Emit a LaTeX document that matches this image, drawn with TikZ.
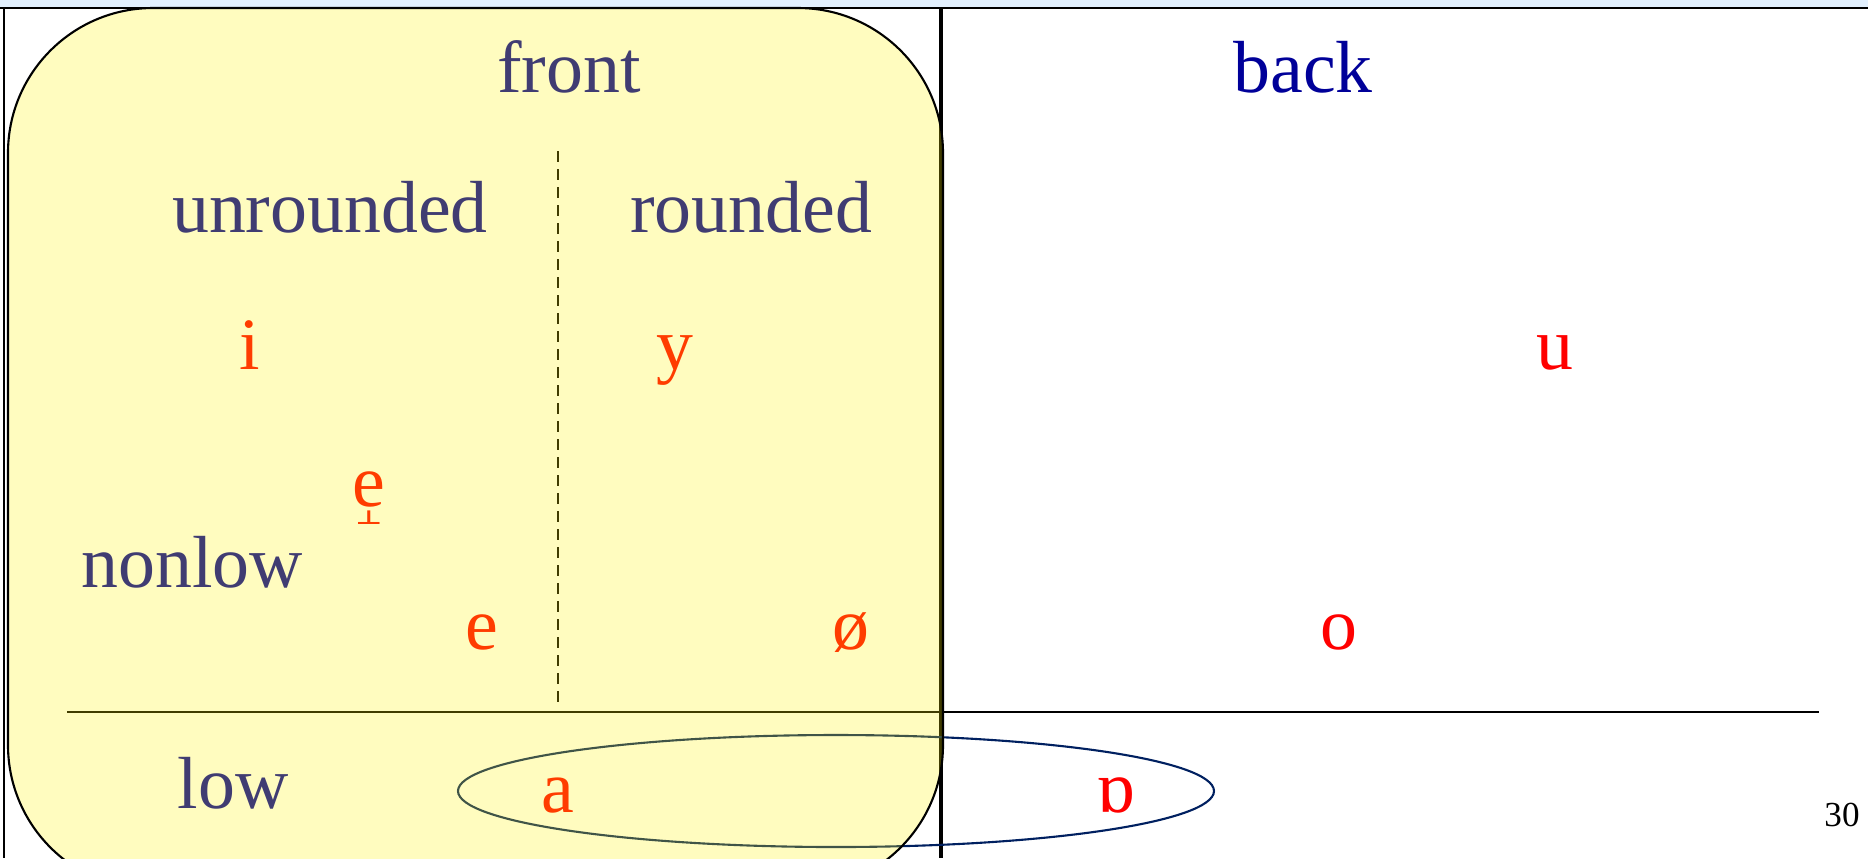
\documentclass[tikz,border=0pt]{standalone}
\usepackage{fontspec}
\usepackage{graphicx}
\setmainfont{Liberation Serif}
\newfontfamily\tackfont{DejaVu Sans}

\definecolor{catblue}{RGB}{0,0,153}
\definecolor{vowelred}{RGB}{255,0,0}
\definecolor{stripblue}{RGB}{226,240,254}
\definecolor{ovalnavy}{RGB}{0,32,96}

\begin{document}
\begin{tikzpicture}[x=0.1mm,y=-0.1mm,font=\fontsize{21}{25}\selectfont]
  \tikzset{
    cat/.style={
      text=catblue,
      anchor=base,
      inner sep=0pt
    },
    vowel/.style={
      text=vowelred,
      anchor=base,
      inner sep=0pt
    },
    rule/.style={line width=0.6pt}
  }
  \useasboundingbox (0,0) rectangle (1868,858);

  % frame of the table
  \fill[stripblue] (0,0) rectangle (1868,8);
  \draw[rule] (0,8) -- (1868,8);
  \draw[rule] (4,8) -- (4,858);
  \draw[line width=1.2pt] (941,8) -- (941,858);
  \draw[rule] (67,712) -- (1819,712);
  \draw[line width=0.4pt, dash pattern=on 1.1mm off 0.7mm] (558,151) -- (558,705);

  \node[cat] (front) at (569,92) {front};
  \node[cat] (back) at (1303,92) {back};
  \node[cat] (unrounded) at (330,232) {unrounded};
  \node[cat] (rounded) at (751,232) {rounded};
  \node[cat] (nonlow) at (192,587) {nonlow};
  \node[cat] (low) at (233,808) {low};

  \node[vowel] (i) at (250,369) {i};
  \node[vowel] (y) at (675,369) {y};
  \node[vowel] (u) at (1555,369) {u};
  \node[vowel] (eraised) at (369,506) {e\llap{\makebox[0.444em]{\raisebox{-5.4pt}{\scalebox{1.5}[1]{\tackfont\bfseries\fontsize{5.5}{5.5}\selectfont ⊥}}}}};
  \node[vowel] (e) at (482,649) {e};
  \node[vowel] (oslash) at (851,649) {ø};
  \node[vowel] (o) at (1339,649) {o};
  \node[vowel] (a) at (558,812) {a};
  \node[vowel] (turneda) at (1116,812) {ɒ};

  \node[anchor=base, inner sep=0pt, font=\fontsize{10}{12}\selectfont] (page) at (1842,826) {30};

  % low vowels a and turned a
  \draw[rule, ovalnavy] (836,791) ellipse [x radius=37.8mm, y radius=5.6mm];

  % front region, laid over the rest
  \draw[rule, fill=yellow, fill opacity=0.25, rounded corners=14.5mm] (8,8) rectangle (943,890);
\end{tikzpicture}
\end{document}
